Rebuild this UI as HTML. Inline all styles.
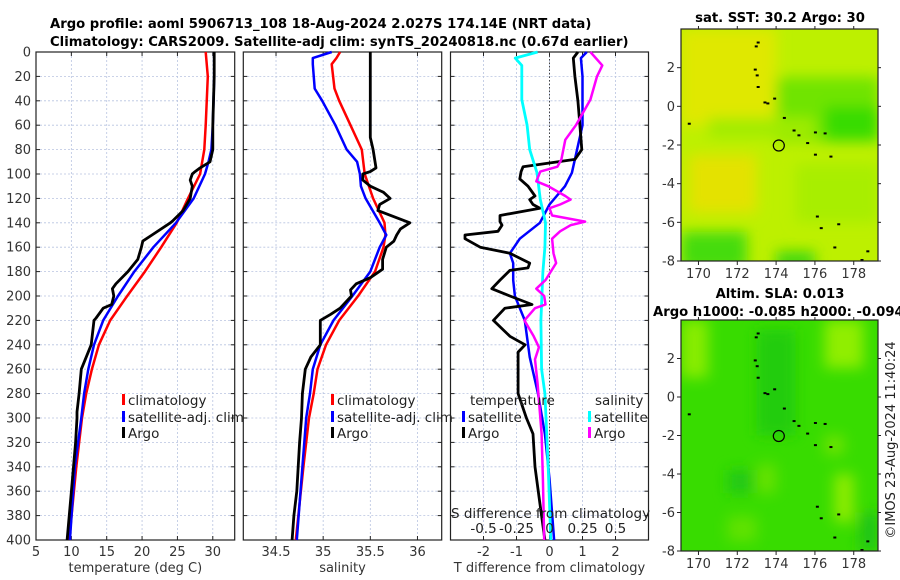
<!DOCTYPE html>
<html><head><meta charset="utf-8"><style>
html,body{margin:0;padding:0;background:#fff;}
svg{display:block;font-family:"DejaVu Sans","Liberation Sans",sans-serif;}
</style></head><body>
<svg id="fig" width="900" height="580" viewBox="0 0 900 580">
<defs>
<filter id="blur3" x="-30%" y="-30%" width="160%" height="160%"><feGaussianBlur stdDeviation="7"/></filter>
<clipPath id="clipM1"><rect x="681" y="29" width="197" height="232"/></clipPath>
<clipPath id="clipM2"><rect x="681" y="320" width="197" height="231"/></clipPath>
</defs>
<g font-weight="bold" font-size="13.2" fill="#000">
<text x="50" y="28">Argo profile: aoml 5906713_108 18-Aug-2024 2.027S 174.14E (NRT data)</text>
<text x="50" y="46">Climatology: CARS2009. Satellite-adj clim: synTS_20240818.nc (0.67d earlier)</text>
</g>
<g id="panels"></g>
<g id="maps"></g>
<text transform="translate(895,440) rotate(-90)" text-anchor="middle" font-size="13" fill="#222">©IMOS 23-Aug-2024 11:40:24</text>
</svg>
<script>
// ---- depth axis data ----
const depthTicks = [0,20,40,60,80,100,120,140,160,180,200,220,240,260,280,300,320,340,360,380,400];
// temperature panel
const tempTicks = [5,10,15,20,25,30];
const climTDepth = [0,20,60,80,100,120,140,160,180,200,220,240,260,280,300,340,400];
const climT =      [29.0,29.3,29.0,28.8,28.2,26.5,24.9,22.7,20.4,17.9,15.5,13.9,12.9,12.1,11.5,10.7,9.7];
const satTDepth = [0,20,60,80,90,100,120,140,160,180,200,220,240,260,280,300,340,400];
const satT =      [30.2,30.2,30.0,29.8,29.4,28.9,27.3,24.8,21.6,18.9,16.6,14.5,13.2,12.4,11.8,11.4,10.5,9.8];
const argoTDepth = [0,20,60,80,90,95,98,100,105,110,120,130,138,140,150,155,160,170,180,190,194,200,207,210,218,220,240,260,280,295,300,320,360,400];
const argoT =      [30.2,30.2,30.0,30.0,29.6,28.2,27.5,27.1,26.8,27.1,26.8,25.8,24.4,24.0,21.4,20.1,19.9,19.4,18.0,16.3,15.8,16.0,15.7,14.5,13.5,13.2,12.8,11.4,11.1,10.8,10.8,10.6,10.0,9.4];
// salinity panel
const salTicks = [34.5,35,35.5,36];
const climSDepth = [0,5,10,30,40,60,80,100,120,140,150,160,180,200,220,240,260,280,300,340,400];
const climS =      [35.18,35.14,35.09,35.12,35.17,35.29,35.41,35.44,35.53,35.65,35.66,35.64,35.55,35.37,35.17,35.03,34.94,34.90,34.85,34.79,34.71];
const satSDepth = [0,5,10,30,40,60,80,90,100,110,120,140,150,160,180,200,220,240,260,280,300,340,400];
const satS =      [35.09,34.89,34.89,34.91,34.99,35.13,35.25,35.36,35.39,35.40,35.45,35.60,35.67,35.60,35.50,35.31,35.11,34.97,34.89,34.86,34.82,34.78,34.72];
const argoSDepth = [0,70,80,95,98,100,105,110,115,120,125,130,140,145,150,155,160,170,178,185,190,195,200,210,215,220,240,250,260,280,300,320,360,380,400];
const argoS =      [35.5,35.5,35.53,35.56,35.5,35.42,35.42,35.5,35.64,35.71,35.6,35.58,35.92,35.82,35.78,35.75,35.67,35.63,35.63,35.5,35.35,35.29,35.30,35.18,35.08,34.97,34.97,34.87,34.81,34.78,34.77,34.75,34.72,34.69,34.67];
// difference panel
const diffTTicks = [-2,-1,0,1,2];
const diffSTicks = [-0.5,-0.25,0,0.25,0.5];
const diffSTickLabels = ["-0.5","-0.25","0","0.25","0.5"];
const dSatTDepth = [0,5,20,60,99,110,125,140,153,165,173,187,200,210,220,250,280,313,350,400];
const dSatT =      [1.13,0.95,1.0,1.0,0.68,0.47,0.0,-0.29,-0.9,-1.2,-1.1,-1.1,-1.05,-0.9,-0.75,-0.6,-0.35,-0.14,0.0,0.14];
const dArgoTDepth = [0,5,20,40,60,80,88,94,98,104,110,118,121,125,128,134,139,142,147,150,153,160,165,173,177,179,187,194,200,207,210,220,233,240,246,260,280,300,313,340,370,400];
const dArgoT =      [0.86,0.72,0.77,0.86,0.92,0.98,0.77,-0.8,-0.86,-0.9,-0.65,-0.44,-0.6,-0.5,-0.29,-1.5,-1.5,-1.44,-1.56,-2.56,-2.56,-2.1,-1.2,-0.6,-0.65,-1.2,-1.5,-1.75,-1.2,-0.53,-1.35,-1.7,-1.2,-0.74,-0.95,-0.95,-0.95,-0.7,-0.5,-0.44,-0.29,-0.14];
const dSatSDepth = [0,5,11,39,60,80,99,121,140,160,180,220,260,280,340,400];
const dSatS =      [-0.09,-0.26,-0.21,-0.21,-0.17,-0.15,-0.095,-0.07,-0.03,-0.035,-0.05,-0.065,-0.06,-0.035,-0.01,0.01];
const dArgoSDepth = [0,11,20,39,60,72,88,94,98,106,110,118,121,125,128,134,139,142,147,153,165,173,180,187,194,200,207,210,220,233,242,252,272,313,350,400];
const dArgoS =      [0.31,0.40,0.36,0.31,0.20,0.12,0.09,0.06,-0.07,-0.10,-0.01,0.12,0.16,0.08,0.0,0.02,0.27,0.16,0.08,0.02,0.03,0.05,0.01,-0.03,-0.10,-0.04,-0.03,-0.11,-0.19,-0.12,-0.08,-0.11,-0.09,-0.06,-0.05,-0.04];
// maps
const lonTicks = [170,172,174,176,178];
const latTicks = [2,0,-2,-4,-6,-8];
const argoLon = 174.14, argoLat = -2.027;
const islandLon = [172.95,173.05,172.9,173.0,173.05,173.4,173.55,173.9,174.4,174.9,175.15,176.0,176.5,175.6,176.0,176.8,169.5,176.1,177.2,176.3,177.0,178.7,178.4];
const islandLat = [3.1,3.3,1.9,1.6,1.0,0.2,0.15,0.4,-0.6,-1.25,-1.5,-1.35,-1.4,-1.9,-2.5,-2.6,-0.9,-5.7,-6.1,-6.3,-7.3,-7.5,-7.95];

const NS="http://www.w3.org/2000/svg";
function mk(tag,attrs,parent){const e=document.createElementNS(NS,tag);for(const k in attrs)e.setAttribute(k,attrs[k]);if(parent)parent.appendChild(e);return e;}
const Y0=52,Y1=540;
function yD(d){return Y0+(d/400)*(Y1-Y0);}
const panels=document.getElementById('panels');

function panel(name,x0,x1,vmin,vmax,ticks,tickLabels,xlabel){
  const g=mk('g',{},panels);
  
  
  const sx=v=>x0+(v-vmin)/(vmax-vmin)*(x1-x0);
  depthTicks.forEach(d=>{const l=mk('line',{x1:x0,x2:x1,y1:yD(d),y2:yD(d),stroke:'#b8c4e0','stroke-width':0.8,'stroke-dasharray':'2,2'},g);
    
    mk('line',{x1:x0,x2:x0+4,y1:yD(d),y2:yD(d),stroke:'#222'},g);mk('line',{x1:x1-4,x2:x1,y1:yD(d),y2:yD(d),stroke:'#222'},g);});
  ticks.forEach((t,i)=>{const X=sx(t);const l=mk('line',{x1:X,x2:X,y1:Y0,y2:Y1,stroke:'#b8c4e0','stroke-width':0.8,'stroke-dasharray':'2,2'},g);
    
    mk('line',{x1:X,x2:X,y1:Y1,y2:Y1-4,stroke:'#222'},g);mk('line',{x1:X,x2:X,y1:Y0,y2:Y0+4,stroke:'#222'},g);
    const tx=mk('text',{x:X,y:556,'text-anchor':'middle','font-size':13,fill:'#333'},g);tx.textContent=tickLabels[i];
    });
  const fr=mk('rect',{x:x0,y:Y0,width:x1-x0,height:Y1-Y0,fill:'none',stroke:'#222','stroke-width':1.2},g);
  
  const xl=mk('text',{x:(x0+x1)/2,y:572,'text-anchor':'middle','font-size':13,fill:'#333'},g);xl.textContent=xlabel;
  
  return {g,sx};
}
function line(p,vals,depths,color,w,name){
  const pts=vals.map((v,i)=>p.sx(v).toFixed(1)+','+yD(depths[i]).toFixed(1)).join(' ');
  const l=mk('polyline',{points:pts,fill:'none',stroke:color,'stroke-width':w,'stroke-linejoin':'round'},p.g);
  
}
function legend(p,x,y,color,label){
  const m=mk('rect',{x:x,y:y-11,width:3,height:11,fill:color},p.g);
  
  const t=mk('text',{x:x+6,y:y,'font-size':13.5,fill:'#222'},p.g);t.textContent=label;
  
}
depthTicks.forEach(d=>{const t=mk('text',{x:31,y:yD(d)+4.5,'text-anchor':'end','font-size':13,fill:'#333'},panels);t.textContent=d;
  });

const p1=panel('temperature',36,234.7,5,33.1,tempTicks,tempTicks.map(String),'temperature (deg C)');
line(p1,climT,climTDepth,'#ff0000',2.5,'climatology-temp-line');
line(p1,satT,satTDepth,'#0000ff',2.5,'satellite-temp-line');
line(p1,argoT,argoTDepth,'#000',2.8,'argo-temp-line');
legend(p1,122,405,'#ff0000','climatology');legend(p1,122,422,'#0000ff','satellite-adj. clim');legend(p1,122,438,'#000','Argo');

const p2=panel('salinity',243.3,441.7,34.153,36.257,salTicks,['34.5','35','35.5','36'],'salinity');
line(p2,climS,climSDepth,'#ff0000',2.5,'climatology-salinity-line');
line(p2,satS,satSDepth,'#0000ff',2.5,'satellite-salinity-line');
line(p2,argoS,argoSDepth,'#000',2.8,'argo-salinity-line');
legend(p2,331,405,'#ff0000','climatology');legend(p2,331,422,'#0000ff','satellite-adj. clim');legend(p2,331,438,'#000','Argo');

const p3=panel('difference',450.5,648.5,-3,3,diffTTicks,diffTTicks.map(String),'T difference from climatology');
const zl=mk('line',{x1:549.5,x2:549.5,y1:Y0,y2:Y1,stroke:'#444','stroke-width':1,'stroke-dasharray':'1.5,2'},p3.g);

const p3s={g:p3.g,sx:v=>p3.sx(v*4)};
line(p3,dSatT,dSatTDepth,'#0000ff',2.5,'satellite-temp-diff-line');
line(p3,dArgoT,dArgoTDepth,'#000',2.8,'argo-temp-diff-line');
line(p3s,dSatS,dSatSDepth,'#00ffff',2.8,'satellite-salinity-diff-line');
line(p3s,dArgoS,dArgoSDepth,'#ff00ff',2.5,'argo-salinity-diff-line');
(function(){const t=mk('text',{x:470,y:405,'font-size':13.5,fill:'#222'},p3.g);t.textContent='temperature';
 
 const s=mk('text',{x:595,y:405,'font-size':13.5,fill:'#222'},p3.g);s.textContent='salinity';
 })();
legend(p3,462,422,'#0000ff','satellite');legend(p3,462,438,'#000','Argo');
legend(p3,588,422,'#00ffff','satellite');legend(p3,588,438,'#ff00ff','Argo');
(function(){const t=mk('text',{x:451,y:518,'font-size':13.5,fill:'#222'},p3.g);t.textContent='S difference from climatology';
 
 diffSTicks.forEach((v,i)=>{const l=mk('text',{x:p3s.sx(v),y:533,'text-anchor':'middle','font-size':13.5,fill:'#222'},p3.g);l.textContent=diffSTickLabels[i];
 });})();

// ---- maps ----
const maps=document.getElementById('maps');
function map(name,x0,y0,x1,y1,clip,blobs,base,title1){
  const g=mk('g',{},maps);
  
  const lon0=169.1,lon1=179.25,lat0=4.0,lat1=-8.0;
  const sx=v=>x0+(v-lon0)/(lon1-lon0)*(x1-x0);
  const sy=v=>y0+(v-lat0)/(lat1-lat0)*(y1-y0);
  const cg=mk('g',{'clip-path':'url(#'+clip+')'},g);
  mk('rect',{x:x0,y:y0,width:x1-x0,height:y1-y0,fill:base},cg);
  const bg=mk('g',{filter:'url(#blur3)'},cg);
  blobs.forEach(b=>mk('rect',{x:sx(b[0]),y:sy(b[1]),width:sx(b[2])-sx(b[0]),height:sy(b[3])-sy(b[1]),fill:b[4]},bg));
  islandLon.forEach((lo,i)=>{const d=mk('rect',{x:sx(lo)-1,y:sy(islandLat[i])-1,width:3,height:2,fill:'#000'},cg);
    });
  const c=mk('circle',{cx:sx(argoLon),cy:sy(argoLat),r:5.5,fill:'none',stroke:'#000','stroke-width':1.2},g);
  
  const fr=mk('rect',{x:x0,y:y0,width:x1-x0,height:y1-y0,fill:'none',stroke:'#222','stroke-width':1.2},g);
  
  lonTicks.forEach(t=>{const X=sx(t);mk('line',{x1:X,x2:X,y1:y1,y2:y1+4,stroke:'#222'},g);mk('line',{x1:X,x2:X,y1:y0,y2:y0-3,stroke:'#222'},g);
    const tx=mk('text',{x:X,y:y1+17,'text-anchor':'middle','font-size':13,fill:'#333'},g);tx.textContent=t;
    });
  latTicks.forEach(t=>{const Y=sy(t);mk('line',{x1:x0-4,x2:x0,y1:Y,y2:Y,stroke:'#222'},g);mk('line',{x1:x1,x2:x1+3,y1:Y,y2:Y,stroke:'#222'},g);
    const tx=mk('text',{x:x0-6,y:Y+4.5,'text-anchor':'end','font-size':13,fill:'#333'},g);tx.textContent=t;
    });
  title1.forEach(tt=>{const t=mk('text',{x:tt[0],y:tt[1],'text-anchor':tt[2],'font-size':13.2,'font-weight':'bold',fill:'#000'},g);t.textContent=tt[3];
    });
}
map('sst-map',681,29,878,261,'clipM1',[
  [169.1,4,174,-1,'#e0e800'],[169.5,-2.5,173,-5.5,'#e4e200'],[174,1.5,179.3,-1.8,'#70e400'],[176.5,0,179.3,-1.8,'#38dc00'],
  [170.5,-0.6,176,-1.6,'#a0ec00'],[169.1,-6.5,172.5,-8.5,'#44dc10'],[174,-7.5,176,-8.5,'#40d810'],[175,-3,179.3,-6,'#a8ee00']
],'#bdf000',[[780,22,'middle','sat. SST: 30.2 Argo: 30']]);
map('sla-map',681,320,878,551,'clipM2',[
  [169.1,4,170.5,1,'#88ec00'],[176.5,4,178.5,1.5,'#90ee00'],[177,-4,178,-6.5,'#8eec00'],[176.5,-2,177.5,-3,'#6ee400'],
  [173,-3.5,174,-5,'#66e200'],[171.5,-6.2,173,-7.5,'#60e200'],[171.5,-3.8,172.8,-5,'#22c818'],[173,3.5,175,-2,'#20cc10'],[178.3,-6,179.3,-8,'#22c418']
],'#38dc00',[[780,298,'middle','Altim. SLA: 0.013'],[653,316,'start','Argo h1000: -0.085 h2000: -0.094']]);
</script>
</body></html>
